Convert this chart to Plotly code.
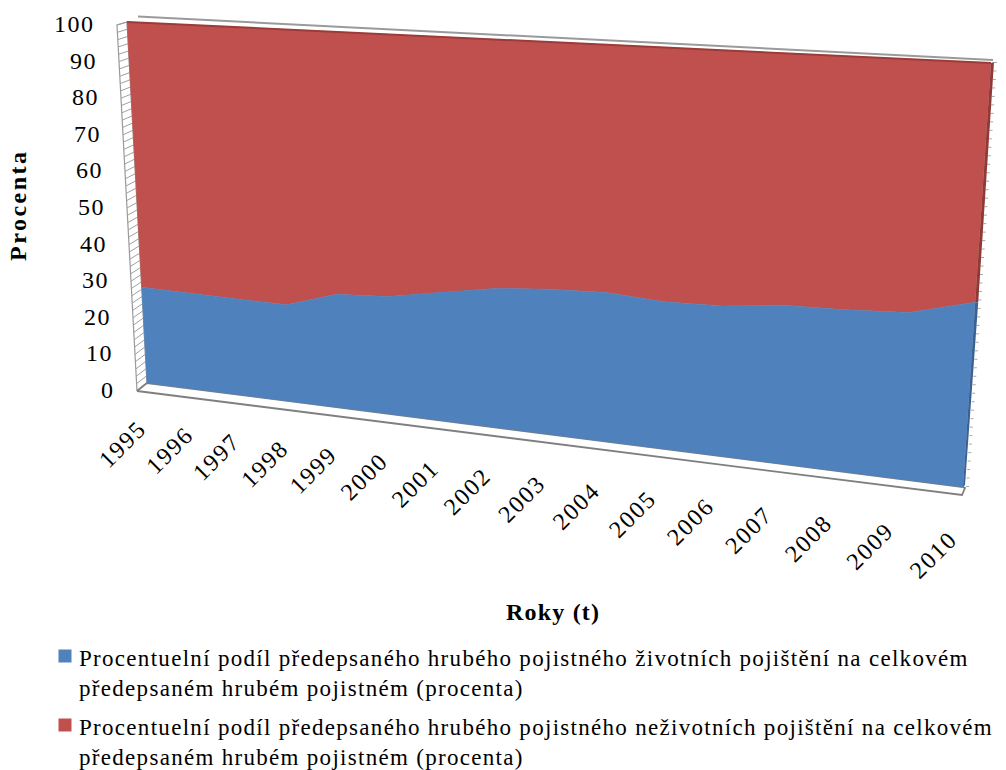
import plotly.graph_objects as go

# ---------------------------------------------------------------- data
roky = ["1995", "1996", "1997", "1998", "1999", "2000", "2001", "2002",
        "2003", "2004", "2005", "2006", "2007", "2008", "2009", "2010"]
zivotni = [26.5, 26.3, 26.1, 25.9, 30.1, 30.9, 33.4, 35.8,
           37.0, 37.5, 36.6, 37.0, 38.6, 38.9, 39.7, 43.6]
nezivotni = [73.5, 73.7, 73.9, 74.1, 69.9, 69.1, 66.6, 64.2,
             63.0, 62.5, 63.4, 63.0, 61.4, 61.1, 60.3, 56.4]
procenta_ticks = [0, 10, 20, 30, 40, 50, 60, 70, 80, 90, 100]

nazev_zivot = ("Procentuelní podíl předepsaného hrubého pojistného životních pojištění na celkovém<br>"
               "předepsaném hrubém pojistném (procenta)")
nazev_nezivot = ("Procentuelní podíl předepsaného hrubého pojistného neživotních pojištění na celkovém<br>"
                 "předepsaném hrubém pojistném (procenta)")

MODRA = "#4F81BD"
CERVENA = "#C0504D"
FONT = "Liberation Serif"

# ------------------------------------------------- 3-D style projection
# front plane of the area series, given by its four projected corners
# (paper pixels) and the relative depth of its left / right ends
P_BL, P_BR = (147.0, 383.0), (963.0, 487.0)
P_TL, P_TR = (127.0, 22.0), (991.0, 63.0)
DEPTH_L, DEPTH_R = 1.18, 1.0
# outer edge of the side wall carrying the value axis
W_B, W_T = (137.0, 391.0), (117.0, 25.0)
N = len(roky)


def proj(i, v):
    """category index i, value v (percent) -> paper pixel position"""
    s = i / (N - 1)
    f = s * DEPTH_R / ((1 - s) * DEPTH_L + s * DEPTH_R)
    bx = P_BL[0] + (P_BR[0] - P_BL[0]) * f
    by = P_BL[1] + (P_BR[1] - P_BL[1]) * f
    tx = P_TL[0] + (P_TR[0] - P_TL[0]) * f
    ty = P_TL[1] + (P_TR[1] - P_TL[1]) * f
    return bx + (tx - bx) * v / 100.0, by + (ty - by) * v / 100.0


def wall(v):
    return (W_B[0] + (W_T[0] - W_B[0]) * v / 100.0,
            W_B[1] + (W_T[1] - W_B[1]) * v / 100.0)


def poly(pts, fill, line=None, width=0):
    xs = [p[0] for p in pts] + [pts[0][0]]
    ys = [p[1] for p in pts] + [pts[0][1]]
    return go.Scatter(x=xs, y=ys, mode="lines", fill="toself", fillcolor=fill,
                      line=dict(color=line or fill, width=width),
                      hoverinfo="skip", showlegend=False)


def seg(a, b, color, width=1):
    return go.Scatter(x=[a[0], b[0]], y=[a[1], b[1]], mode="lines",
                      line=dict(color=color, width=width),
                      hoverinfo="skip", showlegend=False)


def spaced(text, px):
    return '<span style="letter-spacing:%.1fpx">%s</span>' % (px, text)


fig = go.Figure()

# back wall: top edge peeking above the series
fig.add_trace(seg((138, 16.5), (993, 60), "#9a9a9a", 2))

# gridline ends of the back wall on the right
gx, gy = [], []
for v in range(0, 101, 2):
    x, y = proj(N - 1, v)
    gx += [x + 3, x + 6, None]
    gy += [y - 0.5, y - 0.5, None]
fig.add_trace(go.Scatter(x=gx, y=gy, mode="lines", line=dict(color="#a8a8a8", width=1),
                         hoverinfo="skip", showlegend=False))

# side wall with its gridlines
fig.add_trace(poly([wall(0), wall(100), proj(0, 100), proj(0, 0)], "white", "#9a9a9a", 1.2))
hx, hy = [], []
for v in range(0, 101, 2):
    a = wall(v)
    b = proj(0, v)
    hx += [a[0], b[0], None]
    hy += [a[1], b[1], None]
fig.add_trace(go.Scatter(x=hx, y=hy, mode="lines", line=dict(color="#a0a0a0", width=1),
                         hoverinfo="skip", showlegend=False))

# floor
b0 = proj(0, 0)
b1 = proj(N - 1, 0)
fig.add_trace(poly([wall(0), b0, b1, (b1[0] + 2, b1[1] + 1), (b1[0] - 1, b1[1] + 8)],
                   "white", "#7f7f7f", 1.8))

# stacked areas
horni = [z + n for z, n in zip(zivotni, nezivotni)]
top_pts = [proj(i, horni[i]) for i in range(N)]
mid_pts = [proj(i, zivotni[i]) for i in range(N)]
bot_pts = [proj(i, 0) for i in range(N)]
fig.add_trace(poly(top_pts + mid_pts[::-1], CERVENA, CERVENA, 0.5))
fig.add_trace(poly(mid_pts + bot_pts[::-1], MODRA, MODRA, 0.5))

# top face and right-hand side face of the series
fig.add_trace(seg(top_pts[0], top_pts[-1], "#9b3c39", 2))
r_top, r_mid, r_bot = top_pts[-1], mid_pts[-1], bot_pts[-1]
fig.add_trace(poly([r_top, (r_top[0] + 3, r_top[1] - 1), (r_mid[0] + 3, r_mid[1]), r_mid],
                   "#8f3a37"))
fig.add_trace(poly([r_mid, (r_mid[0] + 3, r_mid[1]), (r_bot[0] + 2, r_bot[1] - 2), r_bot],
                   "#3a6191"))

# ------------------------------------------------------------- texts
ann = []
for v in procenta_ticks:
    x, y = wall(v)
    ann.append(dict(x=x - 20, y=y - 1, text=spaced(str(v), 1.5), showarrow=False,
                    xanchor="right", yanchor="middle",
                    font=dict(family=FONT, size=24, color="#000")))
for i, r in enumerate(roky):
    x, y = proj(i, -11)
    ann.append(dict(x=x + 5, y=y - 10, text=spaced(r, 1.8), showarrow=False, textangle=-45,
                    xanchor="right", yanchor="top",
                    font=dict(family=FONT, size=24, color="#000")))

ann.append(dict(x=18, y=205, text="<b>" + spaced("Procenta", 2.5) + "</b>", showarrow=False,
                textangle=-90, xanchor="center", yanchor="middle",
                font=dict(family=FONT, size=24, color="#000")))
ann.append(dict(x=553, y=612, text="<b>" + spaced("Roky (t)", 1.2) + "</b>", showarrow=False,
                xanchor="center", yanchor="middle",
                font=dict(family=FONT, size=24, color="#000")))

# legend
for nazev, barva, y0 in [(nazev_zivot, MODRA, 656), (nazev_nezivot, CERVENA, 725)]:
    fig.add_trace(go.Scatter(x=[65], y=[y0], mode="markers",
                             marker=dict(symbol="square", size=13, color=barva),
                             hoverinfo="skip", showlegend=False))
    radky = nazev.split("<br>")
    ann.append(dict(x=77, y=y0 - 12, text="<br>".join(spaced(t, 1.3) for t in radky),
                    showarrow=False, align="left", xanchor="left", yanchor="top",
                    font=dict(family=FONT, size=23, color="#000")))

fig.update_layout(
    width=1006, height=770,
    margin=dict(l=0, r=0, t=0, b=0),
    paper_bgcolor="white", plot_bgcolor="white",
    xaxis=dict(range=[0, 1006], visible=False, fixedrange=True),
    yaxis=dict(range=[770, 0], visible=False, fixedrange=True),
    annotations=ann,
    showlegend=False,
)

fig.write_html("out.html")
